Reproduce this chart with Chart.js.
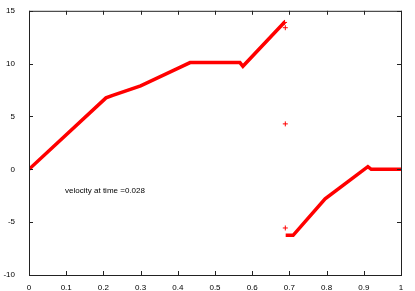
<!DOCTYPE html>
<html>
<head>
<meta charset="utf-8">
<script src="https://cdn.jsdelivr.net/npm/chart.js@4"></script>
<style>
  body { margin: 0; background: #fff; }
  canvas { display: block; }
</style>
</head>
<body>
<canvas id="graph" width="415" height="291"></canvas>
<script>
// velocity profile, null = break in the line
const posX = [0, 0.207, 0.225, 0.30, 0.40, 0.433, 0.567, 0.575, 0.688, 0.689, 0.690, 0.710, 0.796, 0.911, 0.920, 1.0];
const velY = [0, 6.76, 7.0, 7.9, 9.55, 10.1, 10.1, 9.75, 13.96, null, -6.25, -6.25, -2.8, 0.25, 0.0, 0.0];
// stray points around the jump
const strayX = [0.689, 0.689, 0.689, 0.687];
const strayY = [13.4, 4.3, -5.55, 13.9];
const xTicks = [0, 0.1, 0.2, 0.3, 0.4, 0.5, 0.6, 0.7, 0.8, 0.9, 1];
const yTicks = [-10, -5, 0, 5, 10, 15];
const label = "velocity at time =0.028";

const fontFam = "'Liberation Sans', Arial, sans-serif";

const framePlugin = {
  id: "frame",
  afterDraw(chart) {
    const ctx = chart.ctx;
    const a = chart.chartArea;
    const sx = chart.scales.x, sy = chart.scales.y;
    ctx.save();
    ctx.strokeStyle = "#222";
    ctx.lineWidth = 1;
    ctx.strokeRect(a.left + 0.5, a.top + 0.5, a.right - a.left, a.bottom - a.top);
    ctx.beginPath();
    xTicks.forEach(v => {
      const p = Math.round(sx.getPixelForValue(v)) + 0.5;
      ctx.moveTo(p, a.bottom); ctx.lineTo(p, a.bottom - 4);
      ctx.moveTo(p, a.top); ctx.lineTo(p, a.top + 4);
    });
    yTicks.forEach(v => {
      const p = Math.round(sy.getPixelForValue(v)) + 0.5;
      ctx.moveTo(a.left, p); ctx.lineTo(a.left + 4, p);
      ctx.moveTo(a.right, p); ctx.lineTo(a.right - 4, p);
    });
    ctx.stroke();
    ctx.fillStyle = "#000";
    ctx.font = "8px " + fontFam;
    ctx.textBaseline = "middle";
    ctx.fillText(label, sx.getPixelForValue(0.097), sy.getPixelForValue(-2.0));
    ctx.restore();
  }
};

new Chart(document.getElementById("graph").getContext("2d"), {
  type: "scatter",
  data: {
    datasets: [
      {
        data: posX.map((x, i) => ({ x: x, y: velY[i] })),
        showLine: true,
        spanGaps: false,
        borderColor: "#ff0000",
        borderWidth: 3.5,
        pointRadius: 0,
        fill: false
      },
      {
        data: strayX.map((x, i) => ({ x: x, y: strayY[i] })),
        showLine: false,
        pointStyle: "cross",
        pointRadius: 2.5,
        borderColor: "#ff0000",
        borderWidth: 1
      }
    ]
  },
  options: {
    responsive: false,
    animation: false,
    layout: { padding: { top: 10, right: 14, left: 0, bottom: 0 } },
    plugins: { legend: { display: false }, tooltip: { enabled: false } },
    scales: {
      x: {
        type: "linear",
        min: 0,
        max: 1,
        afterBuildTicks: s => { s.ticks = xTicks.map(v => ({ value: v })); },
        afterFit: s => { s.height = 16; },
        grid: { display: false },
        border: { display: false },
        ticks: {
          padding: 0,
          color: "#000",
          font: { family: fontFam, size: 8 },
          maxRotation: 0,
          callback: v => String(+v.toFixed(1))
        }
      },
      y: {
        min: -10,
        max: 15,
        afterBuildTicks: s => { s.ticks = yTicks.map(v => ({ value: v })); },
        afterFit: s => { s.width = 29; },
        grid: { display: false },
        border: { display: false },
        ticks: {
          padding: 6,
          color: "#000",
          font: { family: fontFam, size: 8 }
        }
      }
    }
  },
  plugins: [framePlugin]
});
</script>
</body>
</html>
